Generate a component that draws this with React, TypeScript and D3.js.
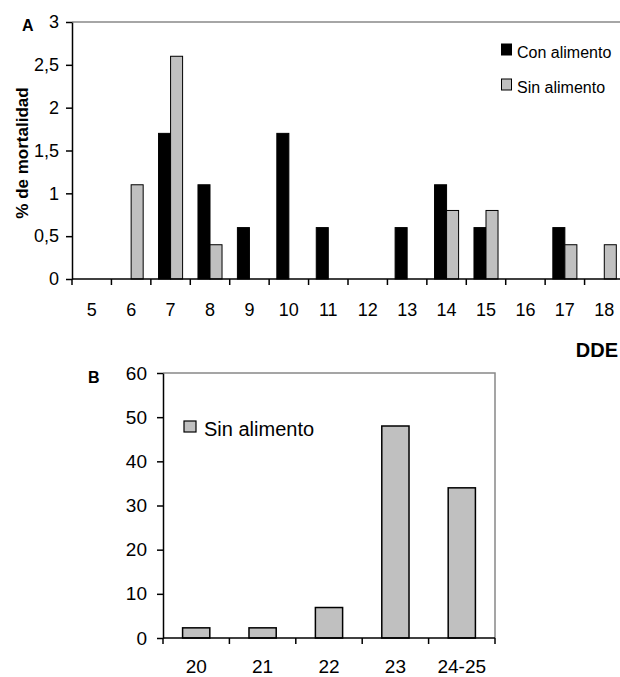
import React, { useRef, useEffect } from "react";
import * as d3 from "d3";

// Panel A: mortality by day (DDE 5-18)
const daysA = ["5", "6", "7", "8", "9", "10", "11", "12", "13", "14", "15", "16", "17", "18"];
const conAlimento = [0, 0, 1.7, 1.1, 0.6, 1.7, 0.6, 0, 0.6, 1.1, 0.6, 0, 0.6, 0];
const sinAlimentoA = [0, 1.1, 2.6, 0.4, 0, 0, 0, 0, 0, 0.8, 0.8, 0, 0.4, 0.4];
const yTicksA = [0, 0.5, 1, 1.5, 2, 2.5, 3];

// Panel B: starved only (DDE 20-25)
const daysB = ["20", "21", "22", "23", "24-25"];
const sinAlimentoB = [2.3, 2.3, 6.9, 48, 34];
const yTicksB = [0, 10, 20, 30, 40, 50, 60];

const FONT = "'Liberation Sans', Arial, sans-serif";
const GRAY = "#c0c0c0";

const App = () => {
  const svgRef = useRef<SVGSVGElement>(null);

  useEffect(() => {
    if (!svgRef.current) return;
    const svg = d3.select(svgRef.current);
    svg.selectAll("*").remove();
    svg.style("font-family", FONT);

    // ---------- Panel A ----------
    const a = { left: 72, right: 624, top: 22, bottom: 279 };
    const x0 = d3
      .scaleBand()
      .domain(daysA)
      .range([a.left, a.right])
      .paddingInner(0.39)
      .paddingOuter(0.195);
    const x1 = d3
      .scaleBand()
      .domain(["con", "sin"])
      .range([0, x0.bandwidth()]);
    const yA = d3.scaleLinear().domain([0, 3]).range([a.bottom, a.top]);

    const gA = svg.append("g");

    // frame (top border)
    gA.append("line")
      .attr("x1", a.left).attr("x2", a.right)
      .attr("y1", a.top).attr("y2", a.top)
      .attr("stroke", "#888").attr("stroke-width", 1.5);

    const rowsA = daysA.map((d, i) => ({ d, con: conAlimento[i], sin: sinAlimentoA[i] }));
    const groups = gA
      .selectAll("g.grp")
      .data(rowsA)
      .join("g")
      .attr("transform", (r) => `translate(${x0(r.d)},0)`);
    groups
      .filter((r) => r.con > 0)
      .append("rect")
      .attr("x", x1("con")!)
      .attr("width", x1.bandwidth())
      .attr("y", (r) => yA(r.con))
      .attr("height", (r) => yA(0) - yA(r.con))
      .attr("fill", "#000")
      .attr("stroke", "#000")
      .attr("stroke-width", 1);
    groups
      .filter((r) => r.sin > 0)
      .append("rect")
      .attr("x", x1("sin")!)
      .attr("width", x1.bandwidth())
      .attr("y", (r) => yA(r.sin))
      .attr("height", (r) => yA(0) - yA(r.sin))
      .attr("fill", GRAY)
      .attr("stroke", "#000")
      .attr("stroke-width", 1);

    // y axis
    gA.append("g")
      .attr("transform", `translate(${a.left},0)`)
      .call(
        d3.axisLeft(yA)
          .tickValues(yTicksA)
          .tickSize(6)
          .tickSizeOuter(0)
          .tickFormat((v) => String(v).replace(".", ","))
      )
      .call((g) => g.select(".domain").attr("stroke-width", 1.5))
      .call((g) => g.selectAll(".tick line").attr("stroke-width", 1.5))
      .call((g) =>
        g.selectAll(".tick text")
          .attr("font-family", FONT)
          .attr("font-size", 18)
          .attr("fill", "#000")
          .attr("x", -13)
      );

    // x axis: ticks at category boundaries, labels centered
    const stepA = x0.step();
    gA.append("line")
      .attr("x1", a.left).attr("x2", a.right)
      .attr("y1", a.bottom).attr("y2", a.bottom)
      .attr("stroke", "#000").attr("stroke-width", 1.5);
    gA.selectAll("line.xt")
      .data(daysA)
      .join("line")
      .attr("x1", (_, i) => a.left + i * stepA)
      .attr("x2", (_, i) => a.left + i * stepA)
      .attr("y1", a.bottom)
      .attr("y2", a.bottom + 6)
      .attr("stroke", "#000").attr("stroke-width", 1.5);
    gA.selectAll("text.xl")
      .data(daysA)
      .join("text")
      .attr("x", (d) => x0(d)! + x0.bandwidth() / 2)
      .attr("y", 316)
      .attr("text-anchor", "middle")
      .attr("font-size", 18)
      .text((d) => d);

    // y label
    gA.append("text")
      .attr("transform", `translate(28,153) rotate(-90)`)
      .attr("text-anchor", "middle")
      .attr("font-size", 17)
      .attr("font-weight", "bold")
      .text("% de mortalidad");

    gA.append("text")
      .attr("x", 22).attr("y", 31)
      .attr("font-size", 16)
      .attr("font-weight", "bold")
      .text("A");

    // legend A
    const legA = [
      { label: "Con alimento", fill: "#000", y: 44 },
      { label: "Sin alimento", fill: GRAY, y: 79 },
    ];
    legA.forEach((l) => {
      gA.append("rect")
        .attr("x", 501.5).attr("y", l.y)
        .attr("width", 10).attr("height", 11)
        .attr("fill", l.fill)
        .attr("stroke", "#000").attr("stroke-width", 1);
      gA.append("text")
        .attr("x", 517).attr("y", l.y + 14)
        .attr("font-size", 16)
        .text(l.label);
    });

    svg.append("text")
      .attr("x", 618).attr("y", 357)
      .attr("text-anchor", "end")
      .attr("font-size", 20)
      .attr("font-weight", "bold")
      .text("DDE");

    // ---------- Panel B ----------
    const b = { left: 163, right: 495, top: 373, bottom: 638 };
    const xB = d3
      .scaleBand()
      .domain(daysB)
      .range([b.left, b.right])
      .paddingInner(0.59)
      .paddingOuter(0.295);
    const yB = d3.scaleLinear().domain([0, 60]).range([b.bottom, b.top]);
    const gB = svg.append("g");

    gB.append("path")
      .attr("d", `M${b.left},${b.top}H${b.right}V${b.bottom}`)
      .attr("fill", "none")
      .attr("stroke", "#888").attr("stroke-width", 1.5);

    gB.selectAll("rect.bar")
      .data(daysB.map((d, i) => ({ d, v: sinAlimentoB[i] })))
      .join("rect")
      .attr("x", (r) => xB(r.d)!)
      .attr("width", xB.bandwidth())
      .attr("y", (r) => yB(r.v))
      .attr("height", (r) => yB(0) - yB(r.v))
      .attr("fill", GRAY)
      .attr("stroke", "#000")
      .attr("stroke-width", 1.5);

    gB.append("g")
      .attr("transform", `translate(${b.left},0)`)
      .call(d3.axisLeft(yB).tickValues(yTicksB).tickSize(6).tickSizeOuter(0))
      .call((g) => g.select(".domain").attr("stroke-width", 1.5))
      .call((g) => g.selectAll(".tick line").attr("stroke-width", 1.5))
      .call((g) =>
        g.selectAll(".tick text")
          .attr("font-family", FONT)
          .attr("font-size", 19)
          .attr("fill", "#000")
          .attr("x", -16)
      );

    const stepB = xB.step();
    gB.append("line")
      .attr("x1", b.left).attr("x2", b.right)
      .attr("y1", b.bottom).attr("y2", b.bottom)
      .attr("stroke", "#000").attr("stroke-width", 1.5);
    gB.selectAll("line.xt")
      .data(d3.range(daysB.length + 1))
      .join("line")
      .attr("x1", (i) => b.left + i * stepB)
      .attr("x2", (i) => b.left + i * stepB)
      .attr("y1", b.bottom)
      .attr("y2", b.bottom + 6)
      .attr("stroke", "#000").attr("stroke-width", 1.5);
    gB.selectAll("text.xl")
      .data(daysB)
      .join("text")
      .attr("x", (d) => xB(d)! + xB.bandwidth() / 2)
      .attr("y", 673)
      .attr("text-anchor", "middle")
      .attr("font-size", 19)
      .text((d) => d);

    gB.append("text")
      .attr("x", 88).attr("y", 383)
      .attr("font-size", 16)
      .attr("font-weight", "bold")
      .text("B");

    gB.append("rect")
      .attr("x", 184).attr("y", 421)
      .attr("width", 12).attr("height", 11)
      .attr("fill", GRAY)
      .attr("stroke", "#000").attr("stroke-width", 1.2);
    gB.append("text")
      .attr("x", 204).attr("y", 436)
      .attr("font-size", 20)
      .text("Sin alimento");
  }, []);

  return (
    <svg
      ref={svgRef}
      width={620}
      height={677}
      style={{ position: "absolute", left: 0, top: 0, background: "#fff" }}
    />
  );
};

export default App;
